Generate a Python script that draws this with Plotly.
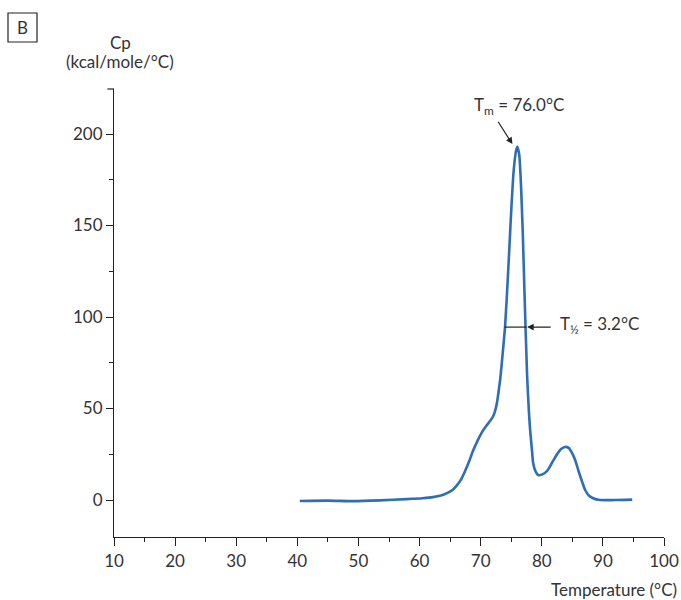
import plotly.graph_objects as go

temperature = [40.4, 45.0, 49.1, 53.5, 57.9, 60.5, 62.2, 63.5, 64.5, 65.4, 66.1, 66.8, 67.4, 68.1, 68.7, 69.5,
               70.2, 70.9, 71.5, 72.0, 72.3, 72.6, 72.8, 73.0, 73.2, 73.6, 74.0, 74.5, 75.0, 75.4, 75.8, 76.0,
               76.3, 76.6, 76.9, 77.2, 77.6, 77.9, 78.1, 78.4, 78.6, 79.0, 79.4, 80.1, 80.9, 81.7, 82.5, 83.2,
               83.8, 84.4, 84.9, 85.5, 86.0, 86.6, 87.1, 87.7, 88.4, 89.5, 92.0, 94.8]
cp = [-0.5, -0.3, -0.6, -0.2, 0.5, 1.0, 1.6, 2.5, 3.8, 5.5, 8.0, 11.3, 15.5, 21.0, 26.5, 32.5,
      37.0, 40.5, 43.0, 45.5, 48.0, 52.0, 56.0, 61.0, 66.0, 80.0, 95.0, 125.0, 158.0, 180.0, 191.0, 193.0,
      189.0, 172.0, 145.0, 110.0, 68.0, 48.0, 38.0, 27.0, 20.0, 15.5, 13.7, 14.0, 16.0, 20.5, 25.0, 28.0,
      29.0, 28.5, 26.0, 21.5, 16.0, 10.0, 5.5, 2.5, 1.0, 0.0, 0.0, 0.2]

x_ticks = [10, 20, 30, 40, 50, 60, 70, 80, 90, 100]
y_ticks = [0, 50, 100, 150, 200]

tm_label = "T<sub>m</sub> = 76.0°C"
thalf_label = "T<sub>½</sub> = 3.2°C"

FONT = "Lato, Open Sans, sans-serif"
TXT = "#333333"
FS = 17

fig = go.Figure()
fig.add_trace(go.Scatter(x=temperature, y=cp, mode="lines",
                         line=dict(color="#2f6db5", width=2.6, shape="spline", smoothing=0.6),
                         hoverinfo="skip", showlegend=False))

fig.update_layout(
    width=681, height=600, autosize=False,
    margin=dict(l=114, r=17, t=89, b=63),
    paper_bgcolor="white", plot_bgcolor="white",
    font=dict(family=FONT, size=FS, color=TXT),
    showlegend=False,
    xaxis=dict(range=[10, 100], tickvals=x_ticks, showgrid=False, zeroline=False, automargin=False,
               showline=True, linecolor="#222", linewidth=1.2,
               ticks="outside", ticklen=8, tickcolor="#222", tickwidth=1.2,
               minor=dict(ticks="outside", ticklen=4, dtick=5, tick0=10, tickcolor="#222", showgrid=False),
               tickfont=dict(size=FS, color=TXT)),
    yaxis=dict(range=[-20.2, 224.6], tickvals=y_ticks, showgrid=False, zeroline=False, automargin=False,
               showline=True, linecolor="#222", linewidth=1.2,
               ticks="outside", ticklen=7, tickcolor="#222", tickwidth=1.2,
               minor=dict(ticks="outside", ticklen=4, dtick=25, tick0=0, tickcolor="#222", showgrid=False),
               tickfont=dict(size=FS, color=TXT)),
)

# Tick at top end of y axis
fig.add_shape(type="line", xref="paper", yref="paper", x0=0, x1=-0.012, y0=1, y1=1,
              line=dict(color="#222", width=1.2))

# Panel label box "B"
fig.add_shape(type="rect", xref="paper", yref="paper",
              x0=-106/550, x1=-77/550, y0=1 + (89 - 42) / 448, y1=1 + (89 - 13) / 448,
              line=dict(color="#222", width=1.2), fillcolor="white")
fig.add_annotation(xref="paper", yref="paper", x=-91.5/550, y=1 + (89 - 27.5) / 448,
                   text="B", showarrow=False, font=dict(size=FS, color=TXT),
                   xanchor="center", yanchor="middle")

# Y axis title
fig.add_annotation(xref="paper", yref="paper", x=6/550, y=1 + (89 - 42) / 448,
                   text="Cp", showarrow=False, xanchor="center", yanchor="middle",
                   font=dict(size=FS, color=TXT))
fig.add_annotation(xref="paper", yref="paper", x=6/550, y=1 + (89 - 62) / 448,
                   text="(kcal/mole/°C)", showarrow=False, xanchor="center", yanchor="middle",
                   font=dict(size=FS, color=TXT))

# X axis title
fig.add_annotation(xref="paper", yref="paper", x=(679 - 114) / 550, y=-(589 - 537) / 448,
                   text="Temperature (°C)", showarrow=False, xanchor="right", yanchor="middle",
                   font=dict(size=FS, color=TXT))

# Tm label and arrow
fig.add_annotation(x=76.2, y=215.5, text=tm_label, showarrow=False,
                   xanchor="center", yanchor="middle", font=dict(size=FS, color=TXT))
fig.add_annotation(x=75.2, y=194.5, ax=72.7, ay=207.5, axref="x", ayref="y",
                   text="", showarrow=True, arrowhead=2, arrowsize=1.1, arrowwidth=1.2, arrowcolor="#222")

# T half-width line and arrow
fig.add_shape(type="line", x0=73.9, x1=77.5, y0=94.5, y1=94.5, line=dict(color="#222", width=1.2))
fig.add_annotation(x=77.6, y=94.5, ax=81.7, ay=94.5, axref="x", ayref="y",
                   text="", showarrow=True, arrowhead=2, arrowsize=1.1, arrowwidth=1.2, arrowcolor="#222")
fig.add_annotation(x=82.6, y=95.5, text=thalf_label, showarrow=False,
                   xanchor="left", yanchor="middle", font=dict(size=FS, color=TXT))

fig.write_html("out.html",
               config={"displayModeBar": False, "responsive": False},
               post_script="document.body.style.margin='0';document.body.style.overflow='hidden';")
